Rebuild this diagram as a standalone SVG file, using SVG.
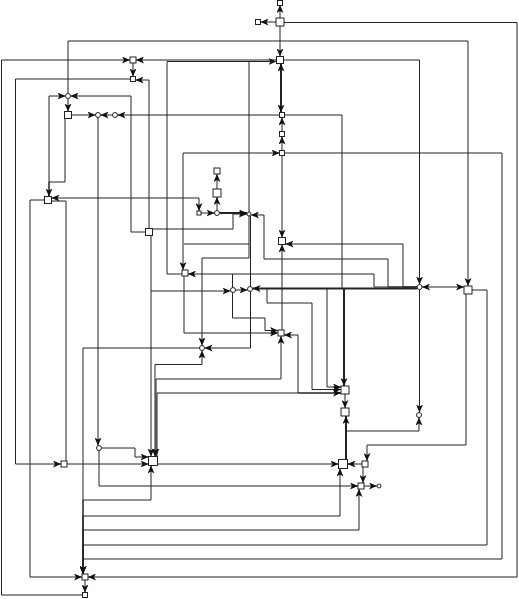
<svg xmlns="http://www.w3.org/2000/svg" width="519" height="599" viewBox="0 0 519 599">
<style>
.e{fill:none;stroke:#222;stroke-width:1;marker-end:url(#a)}
.p{fill:none;stroke:#222;stroke-width:1}
.b{marker-start:url(#s)}
.t{stroke-width:2}
.n{fill:#fff;stroke:#222;stroke-width:1}
</style>
<defs>
<marker id="a" markerUnits="userSpaceOnUse" markerWidth="8" markerHeight="7" refX="8" refY="3.5" orient="auto"><path d="M0,0 L8,3.5 L0,7 L2,3.5 z" fill="#111"/></marker>
<marker id="s" markerUnits="userSpaceOnUse" markerWidth="8" markerHeight="7" refX="8" refY="3.5" orient="auto-start-reverse"><path d="M0,0 L8,3.5 L0,7 L2,3.5 z" fill="#111"/></marker>
</defs>
<rect width="519" height="599" fill="#fff"/>
<g id="connectors">
<path class="e" d="M280,18 L280,5"/>
<path class="e" d="M276,22 L260.5,22"/>
<path class="e" d="M280,26 L280,56.5"/>
<path class="e" d="M284,22.5 L517,22.5 L517,577 L88,577"/>
<path class="e" d="M68,93.5 L68,41 L468,41 L468,286"/>
<path class="e" d="M68,98.5 L68,111.5"/>
<path class="e" d="M82.5,595 L1.5,595 L1.5,60 L130,60"/>
<path class="e" d="M276.5,60 L136,60"/>
<path class="e" d="M283.5,60 L419.5,60 L419.5,284.5"/>
<path class="e b t" d="M281,63.5 L281,112.5"/>
<path class="e" d="M133,63 L133,76.5"/>
<path class="e" d="M130.5,79 L15.5,79 L15.5,464 L61,464"/>
<path class="e" d="M149,228.5 L149,80 L135.5,80"/>
<path class="e" d="M145.5,232 L131,232 L131,96 L70.5,96"/>
<path class="e" d="M49,196.5 L49,96 L65.5,96"/>
<path class="e" d="M65,118.5 L65,182 L49,182 L49,196.5"/>
<path class="e" d="M71.5,115 L95.5,115"/>
<path class="e" d="M112.5,115 L100.5,115"/>
<path class="e" d="M279.5,115 L117.5,115"/>
<path class="p" d="M284.5,115 L342,115 L342,288"/>
<path class="e t" d="M344,288 L344,386"/>
<path class="e" d="M98,117.5 L98,445.5"/>
<path class="e" d="M282,131.5 L282,117.5"/>
<path class="e" d="M282,150.5 L282,136.5"/>
<path class="e b" d="M183,270 L183,153 L279.5,153"/>
<path class="e" d="M282,155.5 L282,237.5"/>
<path class="e" d="M284.5,153 L502,153 L502,559 L83,559 L83,574"/>
<path class="e b" d="M51.5,198 L199,198 L199,211"/>
<path class="e" d="M44.5,200 L30,200 L30,577 L82,577"/>
<path class="p" d="M51.5,201 L66,201 L66,461"/>
<path class="e" d="M217,189 L217,174"/>
<path class="e" d="M217,210.5 L217,197"/>
<path class="e" d="M201,213 L214.5,213"/>
<path class="e t" d="M219.5,213 L247,213"/>
<path class="e" d="M151.5,229 L233,229 L233,214 L247,214"/>
<path class="e" d="M182,274 L167,274 L167,61.5 L276.5,61.5"/>
<path class="e" d="M276.5,61.5 L249,61.5 L249,258 L202,258 L202,345.5"/>
<path class="e" d="M250.5,216 L250.5,348 L204.5,348"/>
<path class="e" d="M417,287 L388,287 L388,259 L264,259 L264,215 L251,215"/>
<path class="e" d="M417,287 L374,287 L374,274 L188,274"/>
<path class="e" d="M417,287 L403,287 L403,244 L285.5,244"/>
<path class="p" d="M249,244 L184,244"/>
<path class="e" d="M184,276 L184,333 L278,333"/>
<path class="e" d="M151,235.5 L151,456.5"/>
<path class="e" d="M151,291 L230.5,291"/>
<path class="e" d="M235.5,290 L247.5,290"/>
<path class="e t" d="M417,288.5 L252.5,288.5"/>
<path class="e" d="M327,288.5 L327,387 L341,387"/>
<path class="e" d="M267,288.5 L267,303 L312,303 L312,389.5 L341,389.5"/>
<path class="p" d="M232.5,287.5 L232.5,274"/>
<path class="e" d="M232.5,292.5 L232.5,318 L265,318 L265,330.5 L278,330.5"/>
<path class="e" d="M282,330 L282,244.5"/>
<path class="e" d="M341,393 L298,393 L298,335 L284,335"/>
<path class="e b" d="M156,456.5 L156,379 L281,379 L281,336"/>
<path class="e b" d="M155,456.5 L155,364.5 L202,364.5 L202,350.5"/>
<path class="e" d="M157,456.5 L157,393 L341,393"/>
<path class="e" d="M199.5,348 L83,348 L83,574"/>
<path class="e" d="M345,394 L345,408"/>
<path class="e" d="M419.5,289.5 L419.5,412.5"/>
<path class="e t" d="M346,459.5 L346,416"/>
<path class="e" d="M346,459.5 L346,431 L419,431 L419,417.5"/>
<path class="e" d="M466,294 L466,445 L367,445 L367,461"/>
<path class="e" d="M362,464 L347.5,464"/>
<path class="e" d="M363,467 L363,483"/>
<path class="e" d="M364,486 L377,486"/>
<path class="e" d="M67,464 L148.5,464"/>
<path class="e" d="M157.5,464 L338.5,464"/>
<path class="e" d="M101.5,448 L135,448 L135,457 L148.5,457"/>
<path class="e" d="M99,450.5 L99,486 L358,486"/>
<path class="e" d="M83,574 L83,500 L151,500 L151,465.5"/>
<path class="e" d="M83,574 L83,516 L340,516 L340,468.5"/>
<path class="e" d="M83,574 L83,530 L359,530 L359,489"/>
<path class="e" d="M472,290 L487,290 L487,545 L83,545 L83,574"/>
<path class="e" d="M85,580 L85,592.5"/>
<path class="e b" d="M422,287 L464,287"/>
</g>
<g id="n1"><rect class="n" x="277.5" y="0.5" width="5" height="5"/></g>
<g id="n2"><rect class="n" x="276" y="18" width="8" height="8"/></g>
<g id="n3"><rect class="n" x="255.5" y="19.5" width="5" height="5"/></g>
<g id="n4"><rect class="n" x="276.5" y="56.5" width="7" height="7"/></g>
<g id="n5"><rect class="n" x="279.5" y="112.5" width="5" height="5"/></g>
<g id="n6"><rect class="n" x="279.5" y="131.5" width="5" height="5"/></g>
<g id="n7"><rect class="n" x="279.5" y="150.5" width="5" height="5"/></g>
<g id="n8"><rect class="n" x="278.5" y="237.5" width="7" height="7"/></g>
<g id="n9"><circle class="n" cx="419.5" cy="287" r="2.5"/></g>
<g id="n10"><rect class="n" x="464" y="286" width="8" height="8"/></g>
<g id="n11"><rect class="n" x="130" y="57" width="6" height="6"/></g>
<g id="n12"><rect class="n" x="130.5" y="76.5" width="5" height="5"/></g>
<g id="n13"><circle class="n" cx="68" cy="96" r="2.5"/></g>
<g id="n14"><rect class="n" x="64.5" y="111.5" width="7" height="7"/></g>
<g id="n15"><circle class="n" cx="98" cy="115" r="2.5"/></g>
<g id="n16"><circle class="n" cx="115" cy="115" r="2.5"/></g>
<g id="n17"><rect class="n" x="44.5" y="196.5" width="7" height="7"/></g>
<g id="n18"><rect class="n" x="145.5" y="228.5" width="7" height="7"/></g>
<g id="n19"><rect class="n" x="214" y="168" width="6" height="6"/></g>
<g id="n20"><rect class="n" x="213" y="189" width="8" height="8"/></g>
<g id="n21"><rect class="n" x="197" y="211" width="4" height="4"/></g>
<g id="n22"><circle class="n" cx="217" cy="213" r="2.5"/></g>
<g id="n23"><circle class="n" cx="249" cy="214" r="2"/></g>
<g id="n24"><rect class="n" x="182" y="270" width="6" height="6"/></g>
<g id="n25"><circle class="n" cx="233" cy="290" r="2.5"/></g>
<g id="n26"><circle class="n" cx="250" cy="289" r="2.5"/></g>
<g id="n27"><rect class="n" x="278" y="330" width="6" height="6"/></g>
<g id="n28"><circle class="n" cx="202" cy="348" r="2.5"/></g>
<g id="n29"><rect class="n" x="341" y="386" width="8" height="8"/></g>
<g id="n30"><rect class="n" x="341" y="408" width="8" height="8"/></g>
<g id="n31"><circle class="n" cx="419" cy="415" r="2.5"/></g>
<g id="n32"><rect class="n" x="148.5" y="456.5" width="9" height="9"/></g>
<g id="n33"><rect class="n" x="61" y="461" width="6" height="6"/></g>
<g id="n34"><circle class="n" cx="99" cy="448" r="2.5"/></g>
<g id="n35"><rect class="n" x="338.5" y="459.5" width="9" height="9"/></g>
<g id="n36"><rect class="n" x="362" y="461" width="6" height="6"/></g>
<g id="n37"><rect class="n" x="358" y="483" width="6" height="6"/></g>
<g id="n38"><circle class="n" cx="379" cy="486" r="2"/></g>
<g id="n39"><rect class="n" x="82" y="574" width="6" height="6"/></g>
<g id="n40"><rect class="n" x="82.5" y="592.5" width="5" height="5"/></g>
</svg>
